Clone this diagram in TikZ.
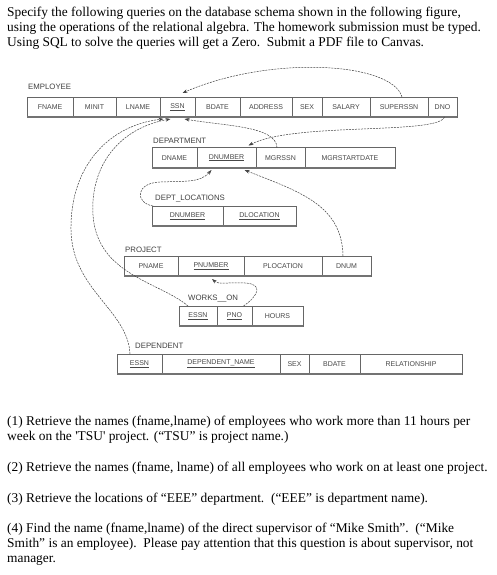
\documentclass[tikz,border=0pt]{standalone}
\usepackage{fontspec}
\setmainfont{Liberation Serif}
\newfontfamily\plainser{Liberation Serif}[Ligatures=TeXOff]
\newfontfamily\cellfont{Liberation Sans}
\usetikzlibrary{arrows.meta}
\newcommand\tcell[6]{\node[cell, anchor=north west, minimum width={#3pt-#2pt}, minimum height={#5pt-#4pt}] (#1) at (#2,#4) {#6};}
\begin{document}
\begin{tikzpicture}[x=1pt,y=-1pt,
  cell/.style={draw=black!60, line width=0.5pt, inner sep=0pt, outer sep=0pt, font=\cellfont\fontsize{7}{8}\selectfont, text=black!72},
  tlabel/.style={anchor=base west, inner sep=0pt, font=\cellfont\fontsize{7.8}{9}\selectfont, text=black!75},
  shadowline/.style={draw=black!55, line width=1.2pt},
  qtext/.style={anchor=base west, inner sep=0pt, font=\fontsize{13.4}{15}\selectfont},
  conn/.style={draw=black!75, line width=0.5pt, dash pattern=on 2pt off 1pt, -{Stealth[length=5pt,width=3.5pt]}}]
\useasboundingbox (0,0) rectangle (496,575);
% header text
\node[qtext] (h1) at (7,17) {Specify the following queries on the database schema shown in the following figure,};
\node[qtext] (h2) at (7,32) {using the operations of the relational algebra. The homework submission must be typed.};
\node[qtext] (h3) at (7,47) {Using SQL to solve the queries will get a Zero.\ \ Submit a PDF file to Canvas.};
% EMPLOYEE
\node[tlabel] (lemp) at (28,90) {EMPLOYEE};
\tcell{emp-fname}{27}{73}{97}{117}{FNAME}
\tcell{emp-minit}{73}{116}{97}{117}{MINIT}
\tcell{emp-lname}{116}{160}{97}{117}{LNAME}
\tcell{emp-ssn}{160}{195}{97}{117}{\underline{SSN}}
\tcell{emp-bdate}{195}{240}{97}{117}{BDATE}
\tcell{emp-address}{240}{292}{97}{117}{ADDRESS}
\tcell{emp-sex}{292}{322}{97}{117}{SEX}
\tcell{emp-salary}{322}{370}{97}{117}{SALARY}
\tcell{emp-super}{370}{428}{97}{117}{SUPERSSN}
\tcell{emp-dno}{428}{457}{97}{117}{DNO}
\draw[shadowline] (emp-fname.south west) -- (emp-dno.south east);
% DEPARTMENT
\node[tlabel] (ldep) at (153,143) {DEPARTMENT};
\tcell{dep-dname}{152}{197}{147.5}{168}{DNAME}
\tcell{dep-dnumber}{197}{256}{147.5}{168}{\underline{DNUMBER}}
\tcell{dep-mgrssn}{256}{305}{147.5}{168}{MGRSSN}
\tcell{dep-mgrstart}{305}{395}{147.5}{168}{MGRSTARTDATE}
\draw[shadowline] (dep-dname.south west) -- (dep-mgrstart.south east);
% DEPT_LOCATIONS
\node[tlabel] (ldl) at (155,200) {DEPT\_LOCATIONS};
\tcell{dl-dnumber}{152}{223}{206}{226}{\underline{DNUMBER}}
\tcell{dl-dloc}{223}{296}{206}{226}{\underline{DLOCATION}}
\draw[shadowline] (dl-dnumber.south west) -- (dl-dloc.south east);
% PROJECT
\node[tlabel] (lproj) at (125,252) {PROJECT};
\tcell{proj-pname}{124}{178}{256}{276}{PNAME}
\tcell{proj-pnumber}{178}{244}{256}{276}{\underline{PNUMBER}}
\tcell{proj-ploc}{244}{322}{256}{276}{PLOCATION}
\tcell{proj-dnum}{322}{371}{256}{276}{DNUM}
\draw[shadowline] (proj-pname.south west) -- (proj-dnum.south east);
% WORKS_ON
\node[tlabel] (lwo) at (188,300) {WORKS\_\_ON};
\tcell{wo-essn}{179}{217}{306}{326}{\underline{ESSN}}
\tcell{wo-pno}{217}{252}{306}{326}{\underline{PNO}}
\tcell{wo-hours}{252}{303}{306}{326}{HOURS}
\draw[shadowline] (wo-essn.south west) -- (wo-hours.south east);
% DEPENDENT
\node[tlabel] (ldpd) at (135,348) {DEPENDENT};
\tcell{dpd-essn}{117}{162}{354}{374}{\underline{ESSN}}
\tcell{dpd-name}{162}{280}{354}{374}{\underline{DEPENDENT\_NAME}}
\tcell{dpd-sex}{280}{309}{354}{374}{SEX}
\tcell{dpd-bdate}{309}{360}{354}{374}{BDATE}
\tcell{dpd-rel}{360}{462}{354}{374}{RELATIONSHIP}
\draw[shadowline] (dpd-essn.south west) -- (dpd-rel.south east);
% connectors
\draw[conn] ([xshift=3pt]emp-super.north) .. controls (392,62) and (270,55) .. ([xshift=5pt,yshift=4pt]emp-ssn.north);
\draw[conn] ([xshift=2pt]emp-dno.south) .. controls (438,135) and (295,122) .. ([xshift=22pt,yshift=2pt]dep-dnumber.north);
\draw[conn] ([xshift=-3.5pt]dep-mgrssn.north) .. controls (276,126) and (225,126) .. ([xshift=7pt,yshift=-2pt]emp-ssn.south);
\draw[conn] ([xshift=1pt]dl-dnumber.north west) .. controls (135,203) and (135,183) .. (160,182) .. controls (185,181) and (200,183) .. ([xshift=-15pt,yshift=-2pt]dep-dnumber.south);
\draw[conn] ([xshift=-3.5pt]proj-dnum.north) .. controls (342,205) and (300,192) .. ([xshift=18pt,yshift=-2pt]dep-dnumber.south);
\draw[conn] ([xshift=-10pt]wo-essn.north) .. controls (160,282) and (97,275) .. (93,215) .. controls (90,165) and (120,128) .. ([xshift=-7pt,yshift=-2pt]emp-ssn.south);
\draw[conn] ([xshift=-9.5pt]dpd-essn.north) .. controls (128,310) and (72,290) .. (71,230) .. controls (70,165) and (110,125) .. ([xshift=-14pt,yshift=-2pt]emp-ssn.south);
\draw[conn] ([xshift=9pt]wo-pno.north) .. controls (258,296) and (264,284) .. (245,283) .. controls (228,282) and (219,285) .. ([xshift=1pt,yshift=-3pt]proj-pnumber.south);
% questions
\node[qtext] (q1a) at (7,425) {(1) Retrieve the names (fname,lname) of employees who work more than 11 hours per};
\node[qtext] (q1b) at (7,440) {week on the {\plainser 'TSU'} project. (“TSU” is project name.)};
\node[qtext] (q2) at (7,471) {(2) Retrieve the names (fname, lname) of all employees who work on at least one project.};
\node[qtext] (q3) at (7,502) {(3) Retrieve the locations of “EEE” department.\ \ (“EEE” is department name).};
\node[qtext] (q4a) at (7,532) {(4) Find the name (fname,lname) of the direct supervisor of “Mike Smith”.\ \ (“Mike};
\node[qtext] (q4b) at (7,547) {Smith” is an employee).\ \ Please pay attention that this question is about supervisor, not};
\node[qtext] (q4c) at (7,562) {manager.};
\end{tikzpicture}
\end{document}
